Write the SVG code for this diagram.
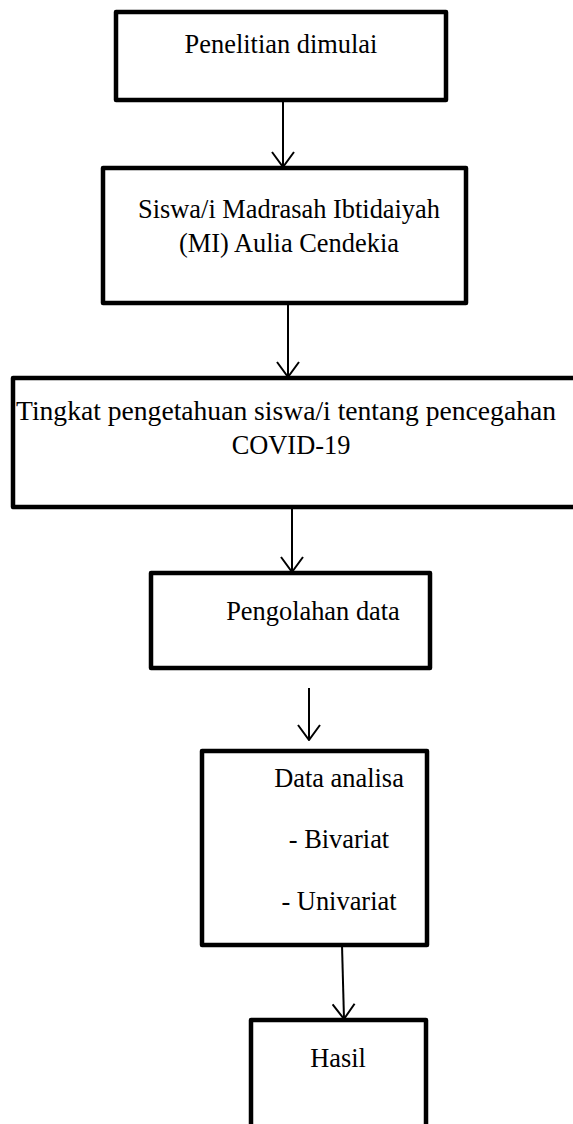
<svg xmlns="http://www.w3.org/2000/svg" width="573" height="1124" viewBox="0 0 573 1124">
<style>
.box{fill:#fff;stroke:#000;stroke-width:4.5;stroke-linejoin:round}
.lbl{font-family:"Liberation Serif","Times New Roman",serif;font-size:26.4px;fill:#000;text-anchor:middle}
.conn{stroke:#000;stroke-width:2;fill:none}
</style>
<defs>
<marker id="arr" viewBox="-16 -12 17 24" refX="0" refY="0" markerWidth="17" markerHeight="24" markerUnits="userSpaceOnUse" orient="auto">
<path d="M-15,-11 L0,0 L-15,11" fill="none" stroke="#000" stroke-width="2"/>
</marker>
</defs>
<rect width="573" height="1124" fill="#fff"/>
<g id="connectors">
<line class="conn" x1="283" y1="100" x2="283" y2="167" marker-end="url(#arr)"/>
<line class="conn" x1="288" y1="303" x2="288" y2="377" marker-end="url(#arr)"/>
<line class="conn" x1="292" y1="507" x2="292" y2="572" marker-end="url(#arr)"/>
<line class="conn" x1="309" y1="688" x2="309" y2="740" marker-end="url(#arr)"/>
<line class="conn" x1="342" y1="945" x2="344" y2="1019" marker-end="url(#arr)"/>
</g>
<g id="node1">
<rect class="box" x="116" y="12" width="330" height="88"/>
<text class="lbl" x="281" y="53">Penelitian dimulai</text>
</g>
<g id="node2">
<rect class="box" x="103" y="168" width="363" height="135"/>
<text class="lbl" x="289" y="218">Siswa/i Madrasah Ibtidaiyah</text>
<text class="lbl" x="289" y="252">(MI) Aulia Cendekia</text>
</g>
<g id="node3">
<rect class="box" x="13" y="378" width="570" height="129"/>
<text class="lbl" x="286" y="420" style="font-size:27.6px">Tingkat pengetahuan siswa/i tentang pencegahan</text>
<text class="lbl" x="291" y="454">COVID-19</text>
</g>
<g id="node4">
<rect class="box" x="151" y="573" width="279" height="95"/>
<text class="lbl" x="313" y="620">Pengolahan data</text>
</g>
<g id="node5">
<rect class="box" x="202" y="751" width="225" height="194"/>
<text class="lbl" x="339" y="787">Data analisa</text>
<text class="lbl" x="339" y="848">- Bivariat</text>
<text class="lbl" x="339" y="910">- Univariat</text>
</g>
<g id="node6">
<rect class="box" x="251" y="1020" width="175" height="110"/>
<text class="lbl" x="338" y="1067">Hasil</text>
</g>
</svg>
